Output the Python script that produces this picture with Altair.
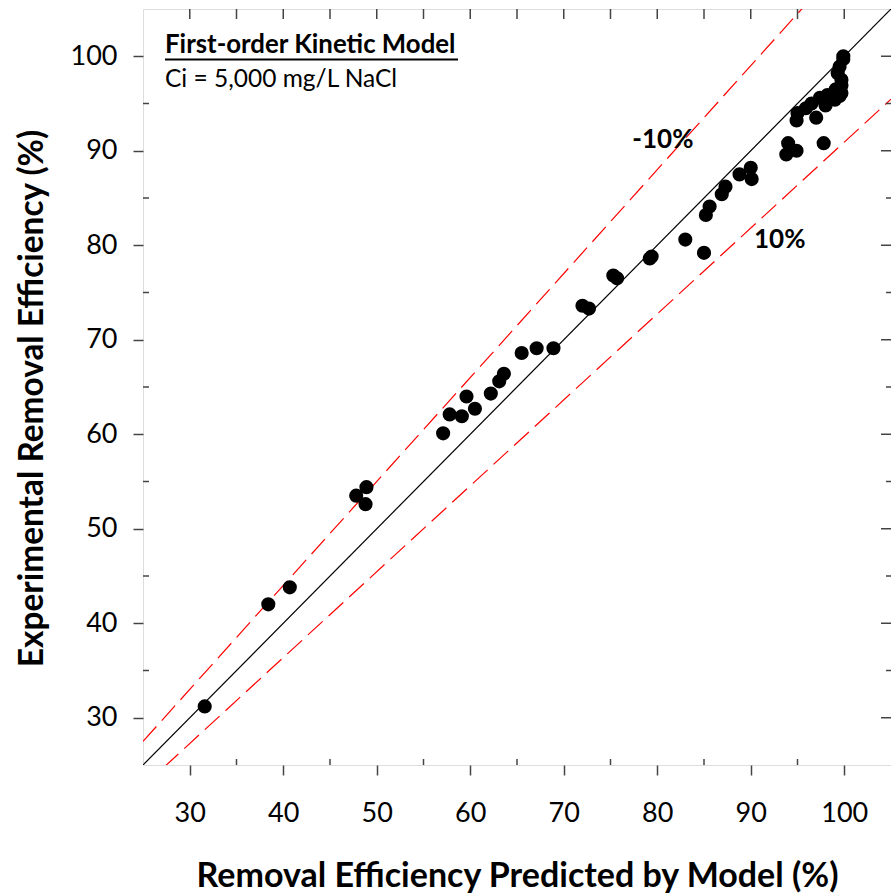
import altair as alt
import pandas as pd

# Removal efficiency predicted by model (%) vs experimental (%)
predicted = [31.6, 38.4, 40.7, 47.8, 48.9, 48.8, 57.1, 57.8, 59.1, 59.6,
             60.5, 62.2, 63.1, 63.6, 65.5, 67.1, 68.9, 72.0, 72.7, 75.3,
             75.7, 79.2, 79.4, 83.0, 85.0, 85.2, 85.6, 86.9, 87.3, 88.8,
             90.0, 90.1, 94.0, 93.8, 94.9, 97.8, 94.9, 95.0, 95.9, 97.0,
             97.4, 96.5, 98.2, 99.0, 99.1, 99.7, 99.7, 99.7, 99.3, 99.5,
             99.9, 99.9, 98.0, 99.5]
experimental = [31.2, 42.0, 43.8, 53.5, 54.4, 52.6, 60.1, 62.1, 61.9, 64.0,
                62.7, 64.3, 65.6, 66.4, 68.6, 69.1, 69.1, 73.6, 73.3, 76.8,
                76.5, 78.6, 78.8, 80.6, 79.2, 83.2, 84.1, 85.4, 86.2, 87.5,
                88.2, 87.0, 90.8, 89.6, 90.0, 90.8, 93.2, 94.0, 94.5, 93.5,
                95.6, 95.0, 95.9, 95.4, 96.5, 96.1, 96.9, 97.5, 98.2, 98.9,
                99.7, 100.0, 94.8, 95.8]

major_ticks = [30, 40, 50, 60, 70, 80, 90, 100]
minor_ticks = [35, 45, 55, 65, 75, 85, 95]
top_ticks = [30, 35, 40, 45, 50, 55, 60, 65, 70, 75, 80, 85, 90, 95, 100]
line_ends = [25, 105]
band_labels = ["-10%", "10%"]
band_label_x = [80.6, 93.1]
band_label_y = [90.3, 79.7]

W, H = 748, 756
FONT = "Lato"
AX = "#444444"

xs = alt.Scale(domain=[25, 105], nice=False, zero=False)
ys = alt.Scale(domain=[25, 105], nice=False, zero=False)

pts = pd.DataFrame({"pred": predicted, "exp": experimental})
lines = pd.DataFrame({"lx": line_ends})

X_TITLE = "Removal Efficiency Predicted by Model (%)"
Y_TITLE = "Experimental Removal Efficiency (%)"

x_axis = alt.Axis(values=major_ticks, title=X_TITLE,
                  tickSize=10, tickColor=AX, tickWidth=1.5, domain=False, grid=False,
                  labelFont=FONT, labelFontSize=27, labelColor="black",
                  labelBaseline="alphabetic", labelPadding=46,
                  titleFont=FONT, titleFontSize=34, titleFontWeight="bold",
                  titleColor="black", titleBaseline="alphabetic", titleY=121)
y_axis = alt.Axis(values=major_ticks, title=Y_TITLE,
                  tickSize=10, tickColor=AX, tickWidth=1.5, domain=False, grid=False,
                  labelFont=FONT, labelFontSize=27, labelColor="black",
                  labelPadding=16,
                  titleFont=FONT, titleFontSize=33.4, titleFontWeight="bold",
                  titleColor="black", titleBaseline="alphabetic", titleX=-101, titleY=389)


def X(field):
    return alt.X(field, scale=xs, axis=x_axis, title=X_TITLE)


def Y(field):
    return alt.Y(field, scale=ys, axis=y_axis, title=Y_TITLE)


base_lines = alt.Chart(lines)
identity = base_lines.mark_line(color="black", strokeWidth=1.2, clip=True).encode(
    x=X("lx:Q"), y=Y("lx:Q"))
upper = base_lines.transform_calculate(ly="datum.lx * 1.1").mark_line(
    color="#ff0000", strokeWidth=1.2, strokeDash=[20, 8], clip=True).encode(
    x=X("lx:Q"), y=Y("ly:Q"))
lower = base_lines.transform_calculate(ly="datum.lx / 1.1").mark_line(
    color="#ff0000", strokeWidth=1.2, strokeDash=[20, 8], clip=True).encode(
    x=X("lx:Q"), y=Y("ly:Q"))

points = alt.Chart(pts).mark_circle(size=200, color="black", opacity=1).encode(
    x=X("pred:Q"), y=Y("exp:Q"))

minor_df = pd.DataFrame({"v": minor_ticks})
major_df = pd.DataFrame({"v": major_ticks})
top_df = pd.DataFrame({"v": top_ticks})

tick_style = dict(color=AX, strokeWidth=1.5)
bottom_minor = alt.Chart(minor_df).mark_rule(**tick_style).encode(
    x=X("v:Q"), y=alt.value(H - 6), y2=alt.value(H))
left_minor = alt.Chart(minor_df).mark_rule(**tick_style).encode(
    y=Y("v:Q"), x=alt.value(0), x2=alt.value(6))
top_t = alt.Chart(top_df).mark_rule(**tick_style).encode(
    x=X("v:Q"), y=alt.value(0), y2=alt.value(10))
right_major = alt.Chart(major_df).mark_rule(**tick_style).encode(
    y=Y("v:Q"), x=alt.value(W - 10), x2=alt.value(W))
right_minor = alt.Chart(minor_df).mark_rule(**tick_style).encode(
    y=Y("v:Q"), x=alt.value(W - 5), x2=alt.value(W))

band_df = pd.DataFrame({"t": band_labels, "bx": band_label_x, "by": band_label_y})
band_text = alt.Chart(band_df).mark_text(font=FONT, fontSize=26, fontWeight="bold",
                                         color="black", baseline="alphabetic", align="center").encode(
    x=X("bx:Q"), y=Y("by:Q"), text="t:N")

title_df = pd.DataFrame({"t": ["First-order Kinetic Model"]})
sub_df = pd.DataFrame({"t": ["Ci = 5,000 mg/L NaCl"]})
ann_title = alt.Chart(title_df).mark_text(font=FONT, fontSize=25.8, fontWeight="bold", color="black",
                                          align="left", baseline="alphabetic").encode(
    x=alt.value(22), y=alt.value(44), text="t:N")
ann_line = alt.Chart(title_df).mark_rule(color="black", strokeWidth=2).encode(
    x=alt.value(22), x2=alt.value(315), y=alt.value(50.5))
ann_sub = alt.Chart(sub_df).mark_text(font=FONT, fontSize=24.5, color="black",
                                      align="left", baseline="alphabetic").encode(
    x=alt.value(22), y=alt.value(78), text="t:N")

chart = alt.layer(
    identity, upper, lower, points,
    bottom_minor, left_minor, top_t, right_major, right_minor,
    band_text, ann_title, ann_line, ann_sub
).properties(
    width=W, height=H,
    autosize=alt.AutoSizeParams(type="none"),
    padding={"left": 143, "top": 9, "right": 0, "bottom": 131},
).configure_view(stroke=AX, strokeWidth=1.5).configure(background="white")

chart.save("out.html", embed_options={"renderer": "svg", "actions": False})
